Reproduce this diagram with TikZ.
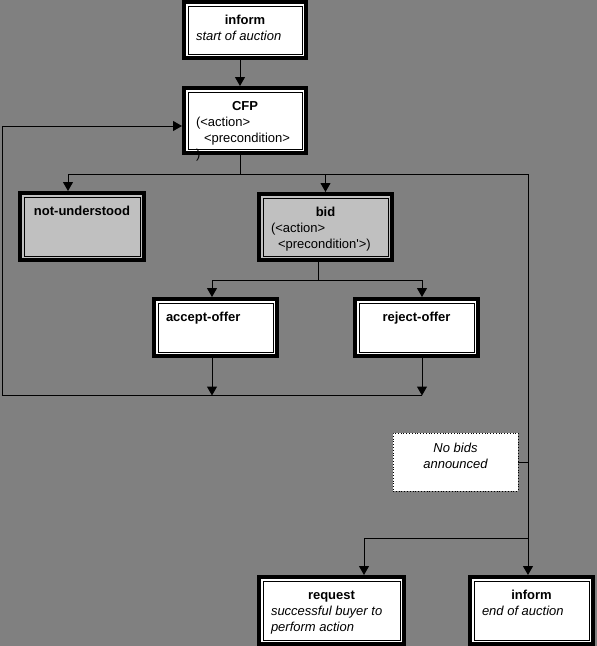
\documentclass[tikz,border=0pt]{standalone}
\usepackage{fontspec}
\setmainfont{Liberation Sans}
\usetikzlibrary{arrows.meta, calc}
\definecolor{canvas}{RGB}{128,128,128}
\definecolor{panel}{RGB}{192,192,192}
\newcommand{\cellbox}[4][22]{%
  \begin{minipage}[t][#3pt][t]{\dimexpr#2pt-24pt\relax}\rule{0pt}{#1pt}#4\end{minipage}}
\tikzset{
    cell/.style = {
        draw, line width=4pt, fill=white, inner xsep=12pt, inner ysep=0pt,
        font=\fontsize{13pt}{16pt}\selectfont,
        path picture = {%
        \draw[line width=1pt]
            ([shift={(4pt,4pt)}]path picture bounding box.south west) rectangle
            ([shift={(-4pt,-4pt)}]path picture bounding box.north east);
        }
    },
    greycell/.style = {cell, fill=panel},
    notecell/.style = {
        draw, dotted, line width=.8pt, fill=white, inner xsep=12pt, inner ysep=0pt,
        font=\fontsize{13pt}{16pt}\selectfont
    },
}
\begin{document}
\begin{tikzpicture}[x=1pt, y=-1pt, line width=1pt, >={Triangle[width=10pt,length=9pt]}]
\useasboundingbox (0,0) rectangle (597,646);
\fill[canvas] (0,0) rectangle (597,646);

\node[cell] (inf) at (245,30) {\cellbox{122}{56}{\makebox[\linewidth]{\bfseries inform}\\\itshape start of auction}};

\node[cell] (cfp) at ($(inf)+(0,90.5)$) {\cellbox{122}{65}{\makebox[\linewidth]{\bfseries CFP}\\(<action>\\\hspace*{8pt}<precondition>\\)}};
\draw[->] ([xshift=-5pt]inf.south) -- ([xshift=-5pt]cfp.north);

\node[greycell] (nu) at ($(cfp)+(-163,106)$) {\cellbox{124}{67}{\makebox[\linewidth]{\bfseries not-understood}}};

\node[greycell] (bid) at ($(cfp)+(80.5,106.5)$) {\cellbox{133}{66}{\makebox[\linewidth]{\bfseries bid}\\(<action>\\\hspace*{7pt}<precondition\textquotesingle>)}};

\node[cell] (acc) at ($(bid)+(-110,100.5)$) {\cellbox{123}{57}{\bfseries accept-offer}};

\node[cell] (rej) at ($(bid)+(91,100.5)$) {\cellbox{123}{57}{\makebox[\linewidth]{\bfseries reject-offer}}};

\node[notecell] (nb) at ($(rej)+(39,134.5)$) {\cellbox[19]{125}{58}{\centering\itshape No bids\\announced}};

\node[cell] (fin) at ($(nb)+(76,148.5)$) {\cellbox{123}{67}{\makebox[\linewidth]{\bfseries inform}\\\itshape end of auction}};

\node[cell] (req) at ($(fin)+(-200,0)$) {\cellbox{145}{67}{\makebox[\linewidth]{\bfseries request}\\\itshape successful buyer to\\perform action}};

\coordinate (spread) at ($(cfp.south)+(-5,19)$);
\coordinate (rail) at ([xshift=-3.5pt]fin.north);
\draw ([xshift=-5pt]cfp.south) -- (spread);
\draw[->] (spread) -| ([xshift=-14pt]nu.north);
\draw[->] (spread) -| (bid.north);
\draw[->] (spread) -| (rail);

\coordinate (fork) at ($(bid.south)+(-7.5,18)$);
\draw ([xshift=-7.5pt]bid.south) -- (fork);
\draw[->] (fork) -| ([xshift=-3.5pt]acc.north);
\draw[->] (fork) -| ([xshift=5.5pt]rej.north);

\coordinate (back) at ($(acc.south)+(-213.5,37.5)$);
\draw[->] ([xshift=-3.5pt]acc.south) -- ([xshift=-3.5pt]acc.south |- back);
\draw[->] ([xshift=5.5pt]rej.south) -- ([xshift=5.5pt]rej.south |- back);
\draw[->] ([xshift=5.5pt]rej.south |- back) -- (back) |- ([yshift=-5.5pt]cfp.west);

\draw (nb.east) -- (nb.east -| rail);
\coordinate (fail) at ($(nb.east -| rail)+(0,76)$);
\draw[->] (fail) -| ([xshift=32.5pt]req.north);
\end{tikzpicture}
\end{document}
